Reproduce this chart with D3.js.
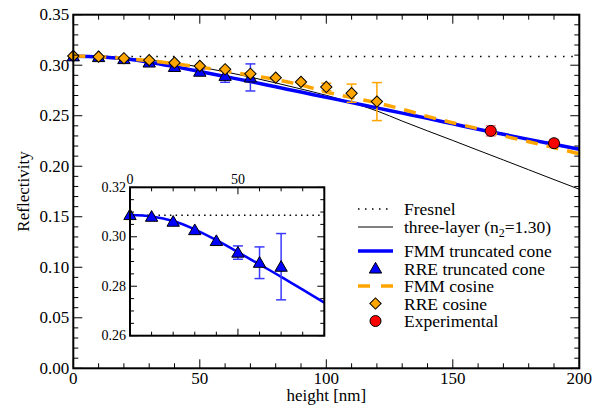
<!DOCTYPE html>
<html>
<head>
<meta charset="utf-8">
<script src="https://cdn.jsdelivr.net/npm/d3@7/dist/d3.min.js"></script>
<style>
  body { margin: 0; background: #fff; }
</style>
</head>
<body>
<div id="chart"></div>
<script>
// model curves, sampled every 10 nm
const curveHeights = [0, 10, 20, 30, 40, 50, 60, 70, 80, 90, 100, 110, 120, 130, 140, 150, 160, 170, 180, 190, 200];
const fmmCone = [0.3088, 0.3082, 0.3064, 0.3030, 0.2986, 0.2938, 0.2888, 0.2838, 0.2786, 0.2734, 0.2682,
  0.2630, 0.2578, 0.2526, 0.2474, 0.2420, 0.2366, 0.2316, 0.2266, 0.2217, 0.2168];
const fmmCosine = [0.3090, 0.3085, 0.3068, 0.3045, 0.3015, 0.2982, 0.2942, 0.2900, 0.2858, 0.2805, 0.2735,
  0.2680, 0.2628, 0.2565, 0.2493, 0.2430, 0.2371, 0.2301, 0.2243, 0.2184, 0.2124];
const threeLayer = [0.3089, 0.3086, 0.3072, 0.3050, 0.3022, 0.2982, 0.2935, 0.2882, 0.2825, 0.2765, 0.2702,
  0.2630, 0.2548, 0.2447, 0.2350, 0.2255, 0.2158, 0.2062, 0.1965, 0.1868, 0.1772];
const fresnel = 0.3087;

// RRE points
const rreConeHeights = [0, 10, 20, 30, 40, 50, 60, 70];
const rreCone = [0.3088, 0.3081, 0.3061, 0.3027, 0.2983, 0.2936, 0.2895, 0.2879];
const rreConeErr = [0, 0, 0, 0, 0, 0.0027, 0.0064, 0.0134];

const rreCosHeights = [0, 10, 20, 30, 40, 50, 60, 70, 80, 90, 100, 110, 120];
const rreCos = [0.3092, 0.3085, 0.3069, 0.3050, 0.3025, 0.2993, 0.2960, 0.2915, 0.2877, 0.2835, 0.2785, 0.2723, 0.2640];
const rreCosErr = [0, 0, 0, 0, 0, 0, 0, 0, 0, 0, 0.0037, 0.0090, 0.0188];

const expHeights = [165, 190];
const expValues = [0.2350, 0.2228];
const expErr = [0.0050, 0.0037];

const xMain = [0, 50, 100, 150, 200];
const yMain = [0, 0.05, 0.10, 0.15, 0.20, 0.25, 0.30, 0.35];
const xInset = [0, 50];
const yInset = [0.26, 0.28, 0.30, 0.32];

const legendLabels = ["Fresnel", "three-layer (n", "FMM truncated cone", "RRE truncated cone",
  "FMM cosine", "RRE cosine", "Experimental"];

const BLUE = "#0000ff";
const ORANGE = "#ffa500";
const FONT = "Liberation Serif";

const width = 616;
const height = 410;

const svg = d3.select("#chart").append("svg")
  .attr("width", width)
  .attr("height", height)
  .attr("font-family", FONT);

const x = d3.scaleLinear().domain([0, 200]).range([73.3, 579.3]);
const y = d3.scaleLinear().domain([0, 0.35]).range([368.3, 14.7]);

const ix = d3.scaleLinear().domain([0, 90]).range([130, 324.3]);
const iy = d3.scaleLinear().domain([0.26, 0.32]).range([335.7, 187.3]);

function zip(xs, ys) {
  return xs.map(function (v, i) { return [v, ys[i]]; });
}

// inward ticks on all four sides, labels on bottom/left (or top/left)
function drawFrame(g, sx, sy, opts) {
  const [x0, x1] = sx.range();
  const [y0, y1] = sy.range();

  const xMinor = d3.range(sx.domain()[0], sx.domain()[1] + 0.001, opts.xMinorStep);
  const yMinor = d3.range(sy.domain()[0], sy.domain()[1] + 0.0001, opts.yMinorStep);

  const ticks = g.append("g").attr("stroke", "#000").attr("stroke-width", 1);

  xMinor.forEach(function (v) {
    const px = sx(v);
    const isMajor = opts.xMajor.some(function (m) { return Math.abs(m - v) < 1e-6; });
    const len = isMajor ? opts.majorLen : opts.minorLen;
    ticks.append("line").attr("x1", px).attr("x2", px).attr("y1", y0).attr("y2", y0 - len);
    ticks.append("line").attr("x1", px).attr("x2", px).attr("y1", y1).attr("y2", y1 + len);
  });

  yMinor.forEach(function (v) {
    const py = sy(v);
    const isMajor = opts.yMajor.some(function (m) { return Math.abs(m - v) < 1e-6; });
    const len = isMajor ? opts.majorLen : opts.minorLen;
    ticks.append("line").attr("x1", x0).attr("x2", x0 + len).attr("y1", py).attr("y2", py);
    ticks.append("line").attr("x1", x1).attr("x2", x1 - len).attr("y1", py).attr("y2", py);
  });

  g.append("rect")
    .attr("x", x0)
    .attr("y", y1)
    .attr("width", x1 - x0)
    .attr("height", y0 - y1)
    .attr("fill", "none")
    .attr("stroke", "#000")
    .attr("stroke-width", 2);

  g.selectAll(".xlab")
    .data(opts.xMajor)
    .join("text")
    .attr("class", "xlab")
    .attr("x", function (d) { return sx(d); })
    .attr("y", opts.xLabelsTop ? y1 - 3 : y0 + 16)
    .attr("text-anchor", "middle")
    .attr("font-family", FONT)
    .attr("font-size", opts.fontSize)
    .text(opts.xFormat);

  g.selectAll(".ylab")
    .data(opts.yMajor)
    .join("text")
    .attr("class", "ylab")
    .attr("x", x0 - 4)
    .attr("y", function (d) { return sy(d) + opts.fontSize * 0.33; })
    .attr("text-anchor", "end")
    .attr("font-family", FONT)
    .attr("font-size", opts.fontSize)
    .text(opts.yFormat);
}

function drawErrorBars(g, sx, sy, xs, ys, errs, color) {
  const rows = zip(xs, ys).map(function (d, i) { return [d[0], d[1], errs[i]]; })
    .filter(function (d) { return d[2] > 0; });
  const bars = g.append("g").attr("stroke", color).attr("stroke-width", 1.5);
  rows.forEach(function (d) {
    const px = sx(d[0]);
    const top = sy(d[1] + d[2]);
    const bot = sy(d[1] - d[2]);
    bars.append("line").attr("x1", px).attr("x2", px).attr("y1", top).attr("y2", bot);
    bars.append("line").attr("x1", px - 5).attr("x2", px + 5).attr("y1", top).attr("y2", top);
    bars.append("line").attr("x1", px - 5).attr("x2", px + 5).attr("y1", bot).attr("y2", bot);
  });
}

const triangle = d3.symbol().type(d3.symbolTriangle).size(66);
const diamond = d3.symbol().type(d3.symbolSquare).size(64);

function drawTriangles(g, sx, sy, xs, ys) {
  g.selectAll(null)
    .data(zip(xs, ys))
    .join("path")
    .attr("d", triangle)
    .attr("transform", function (d) { return `translate(${sx(d[0])},${sy(d[1]) + 1})`; })
    .attr("fill", BLUE)
    .attr("stroke", "#000")
    .attr("stroke-width", 1);
}

function drawDiamonds(g, sx, sy, xs, ys) {
  g.selectAll(null)
    .data(zip(xs, ys))
    .join("path")
    .attr("d", diamond)
    .attr("transform", function (d) { return `translate(${sx(d[0])},${sy(d[1])}) rotate(45)`; })
    .attr("fill", ORANGE)
    .attr("stroke", "#000")
    .attr("stroke-width", 1);
}

function drawCircles(g, sx, sy, xs, ys) {
  g.selectAll(null)
    .data(zip(xs, ys))
    .join("circle")
    .attr("cx", function (d) { return sx(d[0]); })
    .attr("cy", function (d) { return sy(d[1]); })
    .attr("r", 5.5)
    .attr("fill", "#ff0000")
    .attr("stroke", "#000")
    .attr("stroke-width", 1);
}

// ---------- main panel ----------
const main = svg.append("g");

const line = d3.line()
  .curve(d3.curveMonotoneX)
  .x(function (d) { return x(d[0]); })
  .y(function (d) { return y(d[1]); });

main.append("line")
  .attr("x1", x(0)).attr("x2", x(200))
  .attr("y1", y(fresnel)).attr("y2", y(fresnel))
  .attr("stroke", "#000")
  .attr("stroke-width", 1.5)
  .attr("stroke-dasharray", "1.5,6.8");

main.append("path")
  .datum(zip(curveHeights, threeLayer))
  .attr("d", line)
  .attr("fill", "none")
  .attr("stroke", "#000")
  .attr("stroke-width", 1);

main.append("path")
  .datum(zip(curveHeights, fmmCone))
  .attr("d", line)
  .attr("fill", "none")
  .attr("stroke", BLUE)
  .attr("stroke-width", 3.5);

main.append("path")
  .datum(zip(curveHeights, fmmCosine))
  .attr("d", line)
  .attr("fill", "none")
  .attr("stroke", ORANGE)
  .attr("stroke-width", 3.5)
  .attr("stroke-dasharray", "12,9");

drawErrorBars(main, x, y, rreConeHeights, rreCone, rreConeErr, "#3a3aff");
drawTriangles(main, x, y, rreConeHeights, rreCone);
drawErrorBars(main, x, y, rreCosHeights, rreCos, rreCosErr, ORANGE);
drawDiamonds(main, x, y, rreCosHeights, rreCos);
drawErrorBars(main, x, y, expHeights, expValues, expErr, "#ff7a7a");
drawCircles(main, x, y, expHeights, expValues);

drawFrame(main, x, y, {
  xMajor: xMain,
  yMajor: yMain,
  xMinorStep: 10,
  yMinorStep: 0.01,
  majorLen: 9,
  minorLen: 5,
  fontSize: 17,
  xFormat: d3.format("d"),
  yFormat: d3.format(".2f"),
  xLabelsTop: false
});

svg.append("text")
  .attr("x", (x(0) + x(200)) / 2)
  .attr("y", 401)
  .attr("text-anchor", "middle")
  .attr("font-family", FONT)
  .attr("font-size", 17)
  .text("height [nm]");

svg.append("text")
  .attr("transform", `translate(29,${(y(0) + y(0.35)) / 2}) rotate(-90)`)
  .attr("text-anchor", "middle")
  .attr("font-family", FONT)
  .attr("font-size", 17)
  .text("Reflectivity");

// ---------- legend ----------
const legend = svg.append("g");
const legendRows = [209, 227, 251, 268.5, 286, 303.5, 321];
const lx0 = 358;
const lx1 = 393;
const lmid = (lx0 + lx1) / 2;

legend.append("line").attr("x1", lx0).attr("x2", lx1).attr("y1", legendRows[0]).attr("y2", legendRows[0])
  .attr("stroke", "#000").attr("stroke-width", 1.5).attr("stroke-dasharray", "1.5,5.5");
legend.append("line").attr("x1", lx0).attr("x2", lx1).attr("y1", legendRows[1]).attr("y2", legendRows[1])
  .attr("stroke", "#000").attr("stroke-width", 1);
legend.append("line").attr("x1", lx0).attr("x2", lx1).attr("y1", legendRows[2]).attr("y2", legendRows[2])
  .attr("stroke", BLUE).attr("stroke-width", 3.5);
legend.append("path").attr("d", triangle).attr("transform", `translate(${lmid},${legendRows[3] + 1})`)
  .attr("fill", BLUE).attr("stroke", "#000");
legend.append("line").attr("x1", lx0).attr("x2", lx1).attr("y1", legendRows[4]).attr("y2", legendRows[4])
  .attr("stroke", ORANGE).attr("stroke-width", 3.5).attr("stroke-dasharray", "12,11");
legend.append("path").attr("d", diamond).attr("transform", `translate(${lmid},${legendRows[5]}) rotate(45)`)
  .attr("fill", ORANGE).attr("stroke", "#000");
legend.append("circle").attr("cx", lmid).attr("cy", legendRows[6]).attr("r", 5.5)
  .attr("fill", "#ff0000").attr("stroke", "#000");

legendLabels.forEach(function (label, i) {
  const t = legend.append("text")
    .attr("x", 404)
    .attr("y", legendRows[i] + 6)
    .attr("font-family", FONT)
    .attr("font-size", 17.5)
    .text(label);
  if (i === 1) {
    t.append("tspan").attr("dy", 4).attr("font-size", 12).text("2");
    t.append("tspan").attr("dy", -4).text("=1.30)");
  }
});

// ---------- inset ----------
const inset = svg.append("g");

inset.append("rect")
  .attr("x", ix(0)).attr("y", iy(0.32))
  .attr("width", ix(90) - ix(0)).attr("height", iy(0.26) - iy(0.32))
  .attr("fill", "#fff");

const insetLine = d3.line()
  .curve(d3.curveMonotoneX)
  .x(function (d) { return ix(d[0]); })
  .y(function (d) { return iy(d[1]); });

inset.append("line")
  .attr("x1", ix(0)).attr("x2", ix(90))
  .attr("y1", iy(fresnel)).attr("y2", iy(fresnel))
  .attr("stroke", "#000")
  .attr("stroke-width", 1.5)
  .attr("stroke-dasharray", "1.5,4.2");

inset.append("path")
  .datum(zip(curveHeights, fmmCone).filter(function (d) { return d[0] <= 90; }))
  .attr("d", insetLine)
  .attr("fill", "none")
  .attr("stroke", BLUE)
  .attr("stroke-width", 2.5);

drawErrorBars(inset, ix, iy, rreConeHeights, rreCone, rreConeErr, "#3a3aff");
drawTriangles(inset, ix, iy, rreConeHeights, rreCone);

drawFrame(inset, ix, iy, {
  xMajor: xInset,
  yMajor: yInset,
  xMinorStep: 10,
  yMinorStep: 0.005,
  majorLen: 7,
  minorLen: 4,
  fontSize: 14,
  xFormat: d3.format("d"),
  yFormat: d3.format(".2f"),
  xLabelsTop: true
});
</script>
</body>
</html>
